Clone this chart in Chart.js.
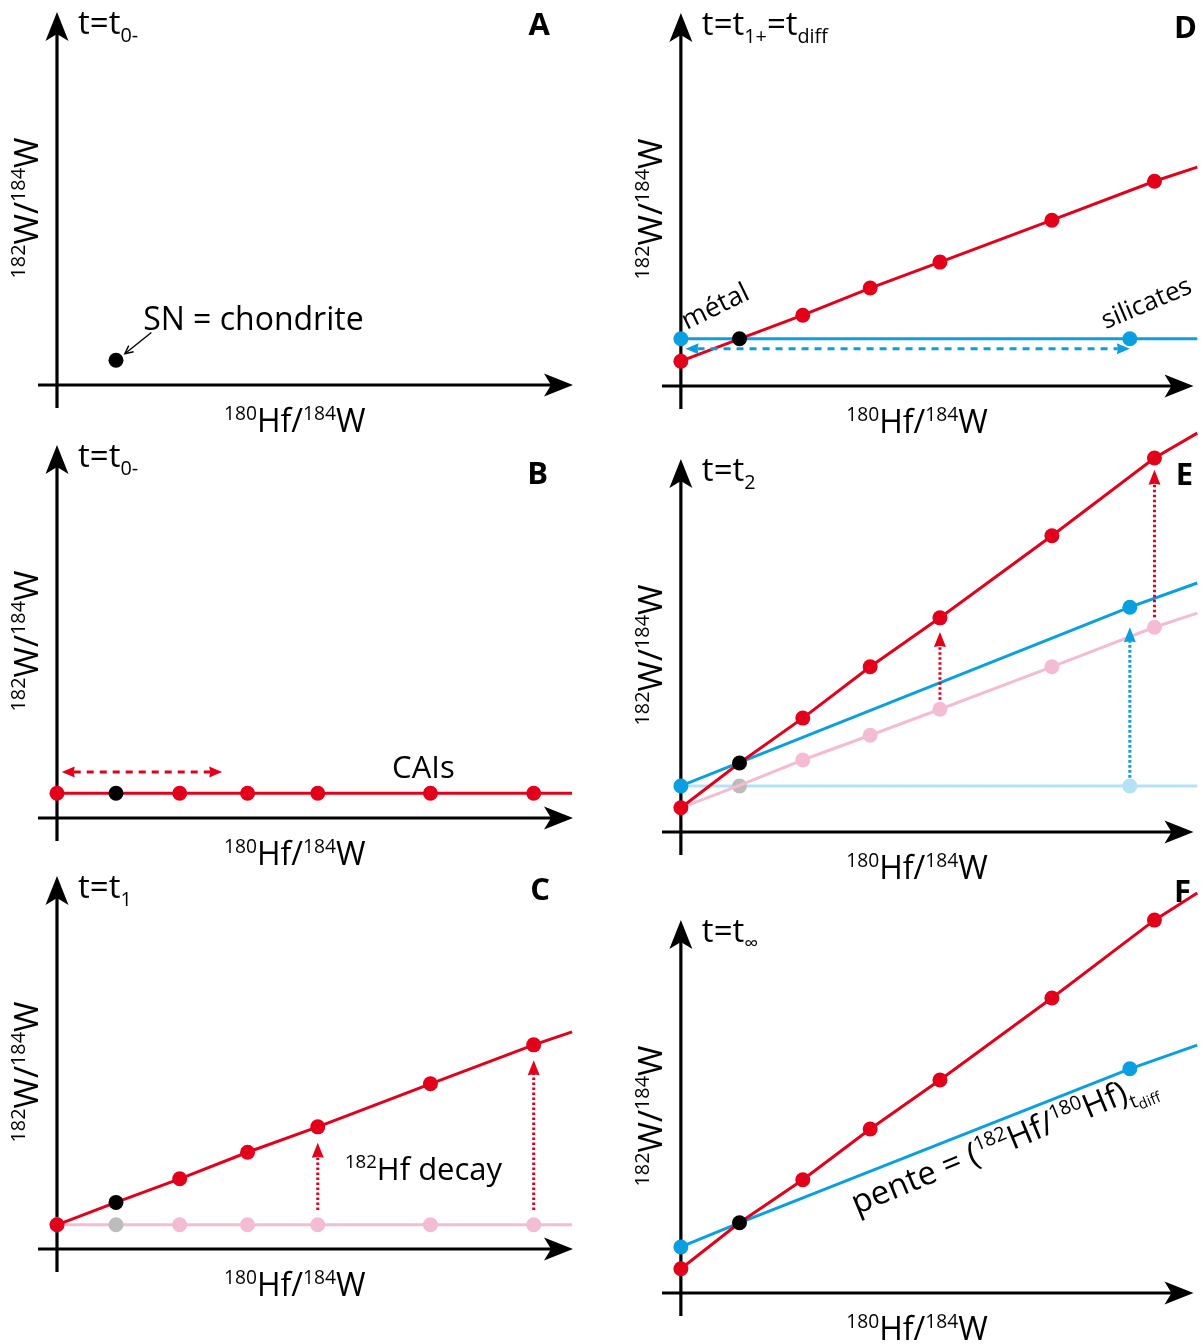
<!DOCTYPE html>
<html>
<head>
<meta charset="utf-8">
<script src="https://cdn.jsdelivr.net/npm/chart.js@4.4.1/dist/chart.umd.min.js"></script>
<style>
  html, body { margin: 0; padding: 0; background: #fff; width: 1201px; height: 1344px; overflow: hidden; }
  #wrap { position: relative; width: 1201px; height: 1344px; overflow: hidden; }
  canvas { position: absolute; }
</style>
</head>
<body>
<div id="wrap"></div>
<script>
// ---------------- DATA (arbitrary schematic units) ----------------
// 180Hf/184W of the samples (x axis)
const sampleHfW = [0, 1, 2.08, 3.23, 4.42, 6.33, 8.08];
const lineEndHfWLeft = 8.73;      // where drawn lines stop (left column)
const lineEndHfWRight = 8.81;     // where drawn lines stop (right column)
const silicateHfW = 7.66;         // silicate reservoir 180Hf/184W
const chondriteIndex = 1;         // the chondritic (bulk) sample

// 182W/184W values
const wA_chondrite = 0.42;
const wB = [0.42, 0.42, 0.42, 0.42, 0.42, 0.42, 0.42];
const wB_end = 0.42;
const wC_initial = [0.41, 0.41, 0.41, 0.41, 0.41, 0.41, 0.41];
const wC_initial_end = 0.41;
const wC = [0.41, 0.79, 1.19, 1.64, 2.07, 2.80, 3.46];
const wC_end = 3.68;
const wD = [0.42, 0.80, 1.20, 1.66, 2.10, 2.81, 3.47];
const wD_end = 3.71;
const wD_metalSilicate = [0.80, 0.80];     // metal (x=0), silicates
const wD_metalSilicate_end = 0.80;
const wE = [0.41, 1.17, 1.93, 2.80, 3.63, 5.02, 6.34];
const wE_end = 6.76;
const wE_previous = [0.41, 0.79, 1.22, 1.64, 2.08, 2.80, 3.47];
const wE_previous_end = 3.71;
const wE_metalSilicate = [0.78, 3.81];
const wE_metalSilicate_end = 4.22;
const wE_metalSilicatePrev = [0.78, 0.78];
const wE_metalSilicatePrev_end = 0.78;
const wF = [0.41, 1.19, 1.92, 2.78, 3.61, 5.00, 6.32];
const wF_end = 6.78;
const wF_metalSilicate = [0.78, 1.19, 3.80];   // metal, chondrite, silicates
const wF_metalSilicateHfW = [0, 1, 7.66];
const wF_metalSilicate_end = 4.20;

// arrows (x, from y, to y)
const decayArrowsC = [[4.42, 0.66, 1.80], [8.08, 0.66, 3.20]];
const decayArrowsE_red = [[4.42, 2.24, 3.39], [8.08, 3.64, 6.14]];
const decayArrowsE_blue = [[7.66, 0.92, 3.47]];
const spreadArrowB = [0.08, 2.8, 0.78];   // x from, x to, y
const spreadArrowD = [0.08, 7.66, 0.63];

// ---------------- STYLE ----------------
const RED = '#e3001b', BLUE = '#0a9fe0', PINK = '#f4bcd3', LBLUE = '#b5e1f6', GRAY = '#bcbcbc', BLACK = '#000';
const FONT = '"Open Sans", "Noto Sans", sans-serif';
const PR = 7.5;

function pts(xs, ys, endX, endY) {
  const d = xs.map((x, i) => ({ x, y: ys[i] }));
  if (endX !== undefined) d.push({ x: endX, y: endY });
  return d;
}
function radii(n, hasEnd, hide) {
  const r = [];
  for (let i = 0; i < n; i++) r.push(hide && hide.includes(i) ? 0 : PR);
  if (hasEnd) r.push(0);
  return r;
}
function colors(n, base, special) {
  const c = [];
  for (let i = 0; i < n + 1; i++) c.push(special && special[i] ? special[i] : base);
  return c;
}
function series(data, color, radius, pcolors, width) {
  return {
    data, showLine: true, borderColor: color, borderWidth: width || 3,
    pointRadius: radius, pointHoverRadius: radius, pointBackgroundColor: pcolors || color,
    pointBorderWidth: 0, pointBorderColor: 'rgba(0,0,0,0)', clip: false, tension: 0
  };
}

// ---------------- RICH TEXT ----------------
function segFont(size, kind, weight) {
  let s = size;
  if (kind === 'sup' || kind === 'sub') s = size * 0.6;
  if (kind === 'sub2') s = size * 0.45;
  return (weight || '') + ' ' + s.toFixed(1) + 'px ' + FONT;
}
function segDy(size, kind) {
  if (kind === 'sup') return -size * 0.38;
  if (kind === 'sub') return size * 0.24;
  if (kind === 'sub2') return size * 0.36;
  return 0;
}
function drawRich(ctx, segs, x, y, size, opt) {
  opt = opt || {};
  ctx.save();
  ctx.translate(x, y);
  if (opt.rot) ctx.rotate(opt.rot * Math.PI / 180);
  ctx.fillStyle = opt.color || '#000';
  ctx.textBaseline = 'alphabetic';
  ctx.textAlign = 'left';
  let w = 0;
  segs.forEach(s => { ctx.font = segFont(size, s[1], opt.weight); w += ctx.measureText(s[0]).width; });
  let cx = opt.align === 'center' ? -w / 2 : (opt.align === 'right' ? -w : 0);
  segs.forEach(s => {
    ctx.font = segFont(size, s[1], opt.weight);
    ctx.fillText(s[0], cx, segDy(size, s[1]));
    cx += ctx.measureText(s[0]).width;
  });
  ctx.restore();
}

function head(ctx, tx, ty, ang, len, half, notch, color) {
  ctx.save();
  ctx.translate(tx, ty);
  ctx.rotate(ang);
  ctx.fillStyle = color;
  ctx.beginPath();
  ctx.moveTo(0, 0);
  ctx.lineTo(-len, -half);
  ctx.lineTo(-len + notch, 0);
  ctx.lineTo(-len, half);
  ctx.closePath();
  ctx.fill();
  ctx.restore();
}

const sketch = {
  id: 'sketch',
  beforeDatasetsDraw(chart, args, o) {
    const ctx = chart.ctx, a = chart.chartArea, xs = chart.scales.x, ys = chart.scales.y;
    const x0 = xs.getPixelForValue(0), y0 = ys.getPixelForValue(0);
    ctx.save();
    ctx.strokeStyle = '#000';
    ctx.lineWidth = 3.2;
    ctx.beginPath();
    ctx.moveTo(a.left, y0); ctx.lineTo(a.right - 20, y0);
    ctx.moveTo(x0, a.bottom); ctx.lineTo(x0, a.top + 20);
    ctx.stroke();
    head(ctx, a.right, y0, 0, 29, 11.5, 7, '#000');
    head(ctx, x0, a.top, -Math.PI / 2, 29, 11.5, 7, '#000');
    // axis titles
    drawRich(ctx, [['180', 'sup'], ['Hf/'], ['184', 'sup'], ['W']], xs.getPixelForValue(4.03), y0 + 47, 32, { align: 'center' });
    ctx.save();
    ctx.translate(x0 - 19, ys.getPixelForValue(3.0));
    drawRich(ctx, [['182', 'sup'], ['W/'], ['184', 'sup'], ['W']], 0, 0, 33, { align: 'center', rot: -90 });
    ctx.restore();
    // panel title and letter
    drawRich(ctx, o.title, x0 + 21, a.top + 22, 33);
    drawRich(ctx, [[o.letter]], o.letterX, a.top + o.letterDy, 31, { align: 'right', weight: 'bold' });
    ctx.restore();
  },
  afterDatasetsDraw(chart, args, o) {
    const ctx = chart.ctx, xs = chart.scales.x, ys = chart.scales.y;
    const X = v => xs.getPixelForValue(v), Y = v => ys.getPixelForValue(v);
    ctx.save();
    (o.vArrows || []).forEach(ar => {
      const [x, y1, y2, color] = ar;
      ctx.strokeStyle = color; ctx.lineWidth = 3; ctx.setLineDash([2.6, 2.4]);
      ctx.beginPath(); ctx.moveTo(X(x), Y(y1)); ctx.lineTo(X(x), Y(y2) + 10); ctx.stroke();
      ctx.setLineDash([]);
      head(ctx, X(x), Y(y2), -Math.PI / 2, 15, 6, 1, color);
    });
    (o.hArrows || []).forEach(ar => {
      const [x1, x2, y, color] = ar;
      ctx.strokeStyle = color; ctx.lineWidth = 3; ctx.setLineDash([7, 6]);
      ctx.beginPath(); ctx.moveTo(X(x1) + 12, Y(y)); ctx.lineTo(X(x2) - 12, Y(y)); ctx.stroke();
      ctx.setLineDash([]);
      head(ctx, X(x2), Y(y), 0, 13, 5.5, 1, color);
      head(ctx, X(x1), Y(y), Math.PI, 13, 5.5, 1, color);
    });
    (o.pointers || []).forEach(p => {
      const [x1, y1, x2, y2] = p;
      const px1 = X(x1), py1 = Y(y1), px2 = X(x2), py2 = Y(y2);
      ctx.strokeStyle = '#000'; ctx.lineWidth = 1.4;
      ctx.beginPath(); ctx.moveTo(px1, py1); ctx.lineTo(px2, py2); ctx.stroke();
      const ang = Math.atan2(py2 - py1, px2 - px1);
      ctx.beginPath();
      ctx.moveTo(px2 - 9 * Math.cos(ang - 0.45), py2 - 9 * Math.sin(ang - 0.45));
      ctx.lineTo(px2, py2);
      ctx.lineTo(px2 - 9 * Math.cos(ang + 0.45), py2 - 9 * Math.sin(ang + 0.45));
      ctx.stroke();
    });
    (o.texts || []).forEach(t => {
      drawRich(ctx, t.segs, X(t.x), Y(t.y), t.size, { rot: t.rot || 0 });
    });
    ctx.restore();
  }
};

// ---------------- PANELS ----------------
const panels = [
  {
    left: 0, top: 0, w: 600, letter: 'A', letterX: 550, letterDy: 23,
    title: [['t=t'], ['0-', 'sub']],
    datasets: [series([{ x: sampleHfW[chondriteIndex], y: wA_chondrite }], BLACK, PR, BLACK)],
    texts: [{ segs: [['SN = chondrite']], x: 1.46, y: 0.93, size: 32 }],
    pointers: [[1.6, 0.89, 1.15, 0.53]]
  },
  {
    left: 0, top: 433, w: 600, letter: 'B', letterX: 548, letterDy: 39,
    title: [['t=t'], ['0-', 'sub']],
    datasets: [series(pts(sampleHfW, wB, lineEndHfWLeft, wB_end), RED, radii(7, true), colors(7, RED, { 1: BLACK }))],
    texts: [{ segs: [['CAIs']], x: 5.68, y: 0.68, size: 31 }],
    hArrows: [[spreadArrowB[0], spreadArrowB[1], spreadArrowB[2], RED]]
  },
  {
    left: 0, top: 864, w: 600, letter: 'C', letterX: 550, letterDy: 24,
    title: [['t=t'], ['1', 'sub']],
    datasets: [
      series(pts(sampleHfW, wC, lineEndHfWLeft, wC_end), RED, radii(7, true), colors(7, RED, { 1: BLACK })),
      series(pts(sampleHfW, wC_initial, lineEndHfWLeft, wC_initial_end), PINK, radii(7, true), colors(7, PINK, { 1: GRAY }))
    ],
    texts: [{ segs: [['182', 'sup'], ['Hf decay']], x: 4.88, y: 1.17, size: 31 }],
    vArrows: decayArrowsC.map(a => [a[0], a[1], a[2], RED])
  },
  {
    left: 624, top: 1, w: 577, letter: 'D', letterX: 573, letterDy: 25,
    title: [['t=t'], ['1+', 'sub'], ['=t'], ['diff', 'sub']],
    datasets: [
      series(pts(sampleHfW, wD, lineEndHfWRight, wD_end), RED, radii(7, true), colors(7, RED, { 1: BLACK })),
      series(pts([0, silicateHfW], wD_metalSilicate, lineEndHfWRight, wD_metalSilicate_end), BLUE, radii(2, true), BLUE)
    ],
    texts: [
      { segs: [['métal']], x: 0.1, y: 0.95, size: 27, rot: -26 },
      { segs: [['silicates']], x: 7.25, y: 0.96, size: 26, rot: -23 }
    ],
    hArrows: [[spreadArrowD[0], spreadArrowD[1], spreadArrowD[2], BLUE]]
  },
  {
    left: 624, top: 447, w: 577, letter: 'E', letterX: 569, letterDy: 26,
    title: [['t=t'], ['2', 'sub']],
    datasets: [
      series(pts(sampleHfW, wE, lineEndHfWRight, wE_end), RED, radii(7, true), colors(7, RED, { 1: BLACK })),
      series(pts([0, silicateHfW], wE_metalSilicate, lineEndHfWRight, wE_metalSilicate_end), BLUE, radii(2, true), BLUE),
      series(pts(sampleHfW, wE_previous, lineEndHfWRight, wE_previous_end), PINK, radii(7, true, [0, 1]), PINK),
      series(pts([0, 1, silicateHfW], [wE_metalSilicatePrev[0], wE_metalSilicatePrev[0], wE_metalSilicatePrev[1]], lineEndHfWRight, wE_metalSilicatePrev_end),
        LBLUE, radii(3, true, [0]), colors(3, LBLUE, { 1: GRAY }))
    ],
    vArrows: decayArrowsE_red.map(a => [a[0], a[1], a[2], RED]).concat(decayArrowsE_blue.map(a => [a[0], a[1], a[2], BLUE]))
  },
  {
    left: 624, top: 908, w: 577, letter: 'F', letterX: 567, letterDy: -18,
    title: [['t=t'], ['∞', 'sub']],
    datasets: [
      series(pts(sampleHfW, wF, lineEndHfWRight, wF_end), RED, radii(7, true), colors(7, RED, { 1: BLACK })),
      series(pts(wF_metalSilicateHfW, wF_metalSilicate, lineEndHfWRight, wF_metalSilicate_end), BLUE, radii(3, true, [1]), BLUE)
    ],
    texts: [{ segs: [['pente = ('], ['182', 'sup'], ['Hf/'], ['180', 'sup'], ['Hf)'], ['t', 'sub'], ['diff', 'sub2']], x: 3.0, y: 1.33, size: 33, rot: -22.5 }]
  }
];

const EXTRA_TOP = 40, H = 490, AXIS_RIGHT = 573;
const wrap = document.getElementById('wrap');
panels.forEach(p => {
  const c = document.createElement('canvas');
  c.width = p.w; c.height = H;
  c.style.left = p.left + 'px';
  c.style.top = (p.top - EXTRA_TOP) + 'px';
  c.style.width = p.w + 'px'; c.style.height = H + 'px';
  wrap.appendChild(c);
  new Chart(c, {
    type: 'scatter',
    data: { datasets: p.datasets },
    options: {
      responsive: false, animation: false, devicePixelRatio: 1,
      layout: { padding: { left: 38, top: 12 + EXTRA_TOP, right: p.w - AXIS_RIGHT, bottom: H - (12 + EXTRA_TOP + 396) } },
      scales: {
        x: { type: 'linear', display: false, min: -0.322, max: 8.746 },
        y: { type: 'linear', display: false, min: -0.39, max: 6.322 }
      },
      plugins: {
        legend: { display: false }, tooltip: { enabled: false },
        sketch: { title: p.title, letter: p.letter, letterX: p.letterX, letterDy: p.letterDy,
          texts: p.texts, vArrows: p.vArrows, hArrows: p.hArrows, pointers: p.pointers }
      }
    },
    plugins: [sketch]
  });
});
</script>
</body>
</html>
